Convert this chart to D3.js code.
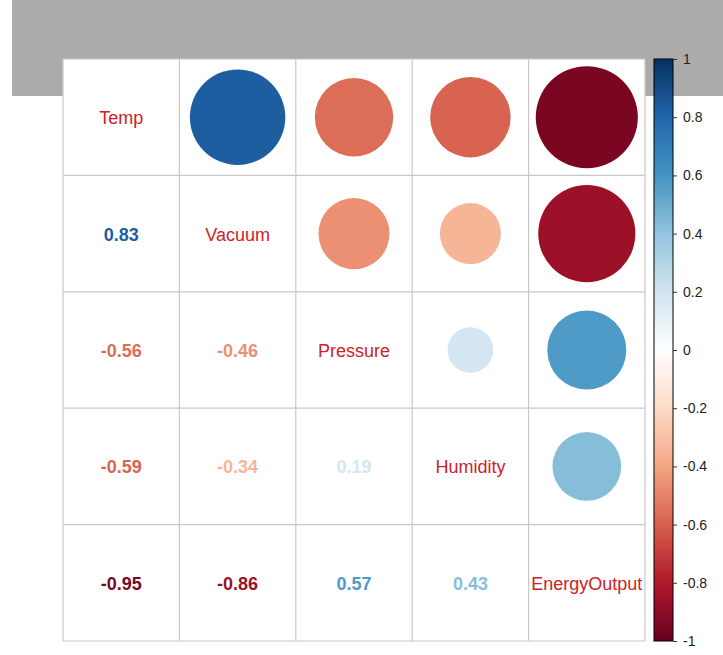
<!DOCTYPE html>
<html>
<head>
<meta charset="utf-8">
<script src="https://cdn.jsdelivr.net/npm/d3@7"></script>
<style>
  html, body { margin: 0; padding: 0; background: #ffffff; }
  svg { display: block; }
</style>
</head>
<body>
<svg id="chart" width="723" height="655"></svg>
<script>
// ---- data ----
const variables = ["Temp", "Vacuum", "Pressure", "Humidity", "EnergyOutput"];
const corrTemp     = [1.00, 0.83, -0.56, -0.59, -0.95];
const corrVacuum   = [0.83, 1.00, -0.46, -0.34, -0.86];
const corrPressure = [-0.56, -0.46, 1.00, 0.19, 0.57];
const corrHumidity = [-0.59, -0.34, 0.19, 1.00, 0.43];
const corrEnergy   = [-0.95, -0.86, 0.57, 0.43, 1.00];
const corrMatrix = [corrTemp, corrVacuum, corrPressure, corrHumidity, corrEnergy];
const legendTicks = [1, 0.8, 0.6, 0.4, 0.2, 0, -0.2, -0.4, -0.6, -0.8, -1];
const paletteColors = ["#67001F", "#B2182B", "#D6604D", "#F4A582", "#FDDBC7", "#FFFFFF",
                       "#D1E5F0", "#92C5DE", "#4393C3", "#2166AC", "#053061"];

// ---- layout ----
const svg = d3.select("#chart");
const gridLeft = 63, gridTop = 59, gridSize = 582;
const barX = 654, barW = 19;

const color = d3.scaleLinear()
  .domain(d3.range(paletteColors.length).map(i => -1 + i * 0.2))
  .range(paletteColors)
  .interpolate(d3.interpolateRgb);

const band = d3.scaleBand().domain(variables).range([0, gridSize]);
const cell = band.bandwidth();
const rScale = d3.scaleSqrt().domain([0, 1]).range([0, cell / 2 * 0.9]);

// grey banner
svg.append("rect").attr("x", 12).attr("y", 0).attr("width", 711).attr("height", 96).attr("fill", "#ababab");

const g = svg.append("g").attr("transform", `translate(${gridLeft},${gridTop})`);

// cells background
g.append("rect").attr("x", 0).attr("y", 0).attr("width", gridSize).attr("height", gridSize).attr("fill", "#ffffff");

// grid lines
const lines = g.append("g").attr("stroke", "#c8c8c8").attr("stroke-width", 1.2);
for (let i = 0; i <= variables.length; i++) {
  const p = i < variables.length ? band(variables[i]) : gridSize;
  lines.append("line").attr("x1", p).attr("x2", p).attr("y1", 0).attr("y2", gridSize);
  lines.append("line").attr("y1", p).attr("y2", p).attr("x1", 0).attr("x2", gridSize);
}

const cellsData = [];
variables.forEach((rv, i) => variables.forEach((cv, j) => cellsData.push({i, j, rv, cv, v: corrMatrix[i][j]})));

// upper triangle: circles
g.selectAll("circle.corr").data(cellsData.filter(d => d.j > d.i)).join("circle")
  .attr("class", "corr")
  .attr("cx", d => band(d.cv) + cell / 2)
  .attr("cy", d => band(d.rv) + cell / 2)
  .attr("r", d => rScale(Math.abs(d.v)))
  .attr("fill", d => color(d.v));

// lower triangle: numbers
g.selectAll("text.num").data(cellsData.filter(d => d.j < d.i)).join("text")
  .attr("class", "num")
  .attr("x", d => band(d.cv) + cell / 2)
  .attr("y", d => band(d.rv) + cell / 2 + 1)
  .attr("text-anchor", "middle")
  .attr("dominant-baseline", "central")
  .attr("font-family", "Liberation Sans, Arial, sans-serif")
  .attr("font-weight", "bold")
  .attr("font-size", 18)
  .attr("fill", d => color(d.v))
  .text(d => d.v.toFixed(2));

// diagonal: names
g.selectAll("text.name").data(cellsData.filter(d => d.j === d.i)).join("text")
  .attr("class", "name")
  .attr("x", d => band(d.cv) + cell / 2)
  .attr("y", d => band(d.rv) + cell / 2 + 1)
  .attr("text-anchor", "middle")
  .attr("dominant-baseline", "central")
  .attr("font-family", "Liberation Sans, Arial, sans-serif")
  .attr("font-size", 18)
  .attr("fill", "#d02028")
  .text(d => d.rv);

// ---- colour bar ----
const barScale = d3.scaleLinear().domain([1, -1]).range([gridTop, gridTop + gridSize]);
const defs = svg.append("defs");
const grad = defs.append("linearGradient").attr("id", "cbar")
  .attr("x1", 0).attr("x2", 0).attr("y1", 0).attr("y2", 1);
d3.range(0, 101).forEach(k => {
  const v = 1 - k * 0.02;
  grad.append("stop").attr("offset", (k) + "%").attr("stop-color", color(v));
});
svg.append("rect")
  .attr("x", barX).attr("y", barScale(1))
  .attr("width", barW).attr("height", barScale(-1) - barScale(1))
  .attr("fill", "url(#cbar)")
  .attr("stroke", "#000").attr("stroke-width", 1);

const axis = d3.axisRight(barScale)
  .tickValues(legendTicks)
  .tickSize(4)
  .tickPadding(6)
  .tickFormat(d => String(Math.round(d * 10) / 10));
const ax = svg.append("g").attr("transform", `translate(${barX + barW},0)`).call(axis);
ax.select(".domain").remove();
ax.selectAll("line").attr("stroke", "#333");
ax.selectAll("text")
  .attr("font-family", "Liberation Sans, Arial, sans-serif")
  .attr("font-size", 14)
  .attr("fill", "#222");
</script>
</body>
</html>
